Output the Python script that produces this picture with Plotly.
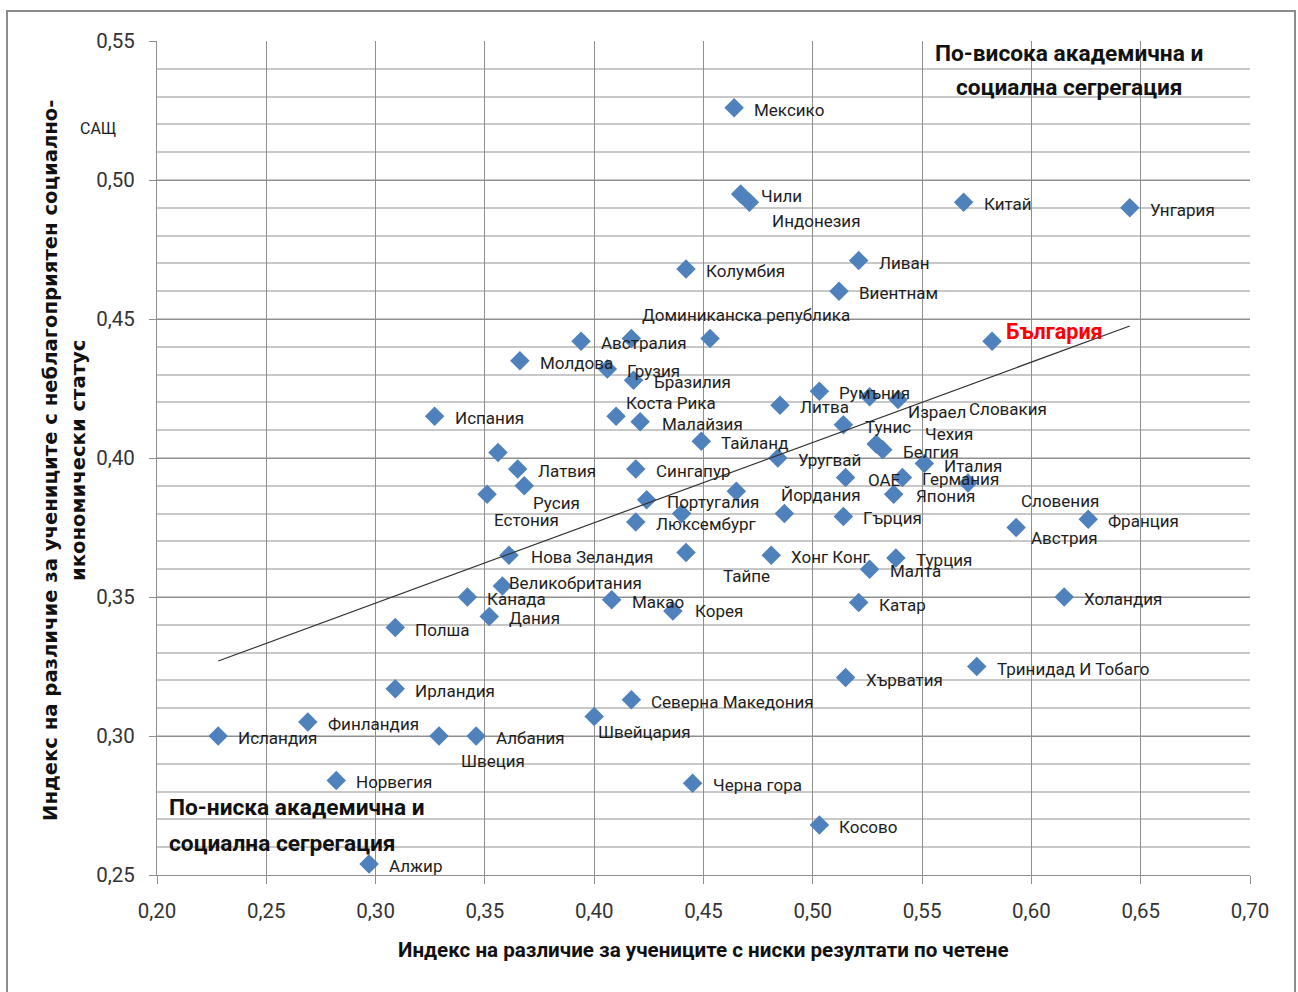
import plotly.graph_objects as go

# Index of difference for students with low reading results (x)
# and for students with disadvantaged socio-economic status (y)
countries = [
    "Мексико", "Чили", "Индонезия", "Китай", "Унгария", "Колумбия", "Ливан",
    "Виентнам", "Доминиканска република", "Австралия", "Молдова", "Грузия",
    "Бразилия", "Коста Рика", "Малайзия", "Испания", "Тайланд", "Уругвай",
    "Литва", "Румъния", "Израел", "Словакия", "Тунис", "Чехия", "Белгия",
    "Италия", "Германия", "ОАЕ", "Словения", "Япония", "Гърция", "Йордания",
    "Португалия", "Люксембург", "Сингапур", "Латвия", "Русия", "Естония",
    "Нова Зеландия", "Великобритания", "Канада", "Дания", "Полша", "Макао",
    "Корея", "Тайпе", "Хонг Конг", "Турция", "Малта", "Катар", "Австрия",
    "Франция", "Холандия", "Тринидад И Тобаго", "Хърватия",
    "Северна Македония", "Швейцария", "Албания", "Швеция", "Ирландия",
    "Финландия", "Исландия", "Норвегия", "Алжир", "Черна гора", "Косово",
    "България",
]
reading_index = [
    0.464, 0.467, 0.471, 0.569, 0.645, 0.442, 0.521,
    0.512, 0.453, 0.394, 0.366, 0.406,
    0.418, 0.410, 0.421, 0.327, 0.449, 0.484,
    0.485, 0.503, 0.526, 0.539, 0.514, 0.529, 0.532,
    0.551, 0.541, 0.515, 0.571, 0.537, 0.514, 0.487,
    0.424, 0.419, 0.419, 0.365, 0.368, 0.351,
    0.361, 0.358, 0.342, 0.352, 0.309, 0.408,
    0.436, 0.442, 0.481, 0.538, 0.526, 0.521, 0.593,
    0.626, 0.615, 0.575, 0.515,
    0.417, 0.400, 0.346, 0.329, 0.309,
    0.269, 0.228, 0.282, 0.297, 0.445, 0.503,
    0.582,
]
ses_index = [
    0.526, 0.495, 0.492, 0.492, 0.490, 0.468, 0.471,
    0.460, 0.443, 0.442, 0.435, 0.432,
    0.428, 0.415, 0.413, 0.415, 0.406, 0.400,
    0.419, 0.424, 0.422, 0.421, 0.412, 0.405, 0.403,
    0.398, 0.393, 0.393, 0.391, 0.387, 0.379, 0.380,
    0.385, 0.377, 0.396, 0.396, 0.390, 0.387,
    0.365, 0.354, 0.350, 0.343, 0.339, 0.349,
    0.345, 0.366, 0.365, 0.364, 0.360, 0.348, 0.375,
    0.378, 0.350, 0.325, 0.321,
    0.313, 0.307, 0.300, 0.300, 0.317,
    0.305, 0.300, 0.284, 0.254, 0.283, 0.268,
    0.442,
]
# points shown without a data label
unlabelled_reading = [0.417, 0.356, 0.465, 0.440]
unlabelled_ses = [0.443, 0.402, 0.388, 0.380]

# linear trend line: end points (x, y)
trend_x = [0.228, 0.645]
trend_y = [0.327, 0.4475]

x_ticks = [0.20, 0.25, 0.30, 0.35, 0.40, 0.45, 0.50, 0.55, 0.60, 0.65, 0.70]
y_ticks = [0.25, 0.30, 0.35, 0.40, 0.45, 0.50, 0.55]

highlight = "България"

# label placement (pixels right / down of the marker); default is right of the point
default_shift = (19, 2)
label_shift = {
    "Индонезия": (22, 19), "Доминиканска република": (-69, -23),
    "Коста Рика": (9, -13), "Израел": (37, 15), "Словакия": (70, 9),
    "Чехия": (48, -10), "Словения": (52, 18), "Йордания": (-4, -19),
    "Русия": (8, 17), "Естония": (6, 26), "Великобритания": (6, -3),
    "Тайпе": (36, 23), "Австрия": (14, 10), "Швейцария": (3, 15),
    "Швеция": (21, 25), "България": (13, -10), "Малайзия": (21, 2),
    "Тунис": (21, 2), "ОАЕ": (21, 3), "Япония": (21, 2), "Нова Зеландия": (21, 2),
    "Корея": (21, 0),
}

W, H = 1298, 992
ML, MR, MT, MB = 157, 48, 41, 117
PW, PH = W - ML - MR, H - MT - MB


def px(xp):
    return (xp - ML) / PW


def py(yp):
    return (H - MB - yp) / PH


LABEL_FONT = "Roboto, 'Open Sans', sans-serif"
TEXT = "#1e1e1e"

fig = go.Figure()

fig.add_trace(go.Scatter(
    x=list(reading_index) + unlabelled_reading,
    y=list(ses_index) + unlabelled_ses,
    mode="markers",
    marker=dict(symbol="diamond", size=15, color="#4F81BD", line=dict(width=0)),
    hoverinfo="skip", showlegend=False,
))

fig.add_trace(go.Scatter(
    x=trend_x, y=trend_y, mode="lines",
    line=dict(color="#333333", width=1.2),
    hoverinfo="skip", showlegend=False,
))

annotations = []
for name, xv, yv in zip(countries, reading_index, ses_index):
    dx, dy = label_shift.get(name, default_shift)
    if name == highlight:
        font = dict(family=LABEL_FONT, size=21.5, color="#ff0000", weight="bold")
    else:
        font = dict(family=LABEL_FONT, size=17, color=TEXT)
    annotations.append(dict(
        x=xv, y=yv, xref="x", yref="y", text=name, showarrow=False,
        xanchor="left", yanchor="middle", xshift=dx, yshift=-dy,
        font=font, borderpad=0,
    ))

annotations.append(dict(
    x=px(98), y=py(128), xref="paper", yref="paper", text="САЩ",
    showarrow=False, xanchor="center", yanchor="middle",
    font=dict(family=LABEL_FONT, size=16, color=TEXT),
))

QUAD_FONT = dict(family=LABEL_FONT, size=22.7, color="#111111", weight="bold")
for text, xp, yp, anchor in [
    ("По-висока академична и", 1069, 53, "center"),
    ("социална сегрегация", 1069, 88, "center"),
    ("По-ниска академична и", 167, 807, "left"),
    ("социална сегрегация", 167, 843, "left"),
]:
    annotations.append(dict(
        x=px(xp), y=py(yp), xref="paper", yref="paper", text=text,
        showarrow=False, xanchor=anchor, yanchor="middle", font=QUAD_FONT,
    ))

TITLE_FONT_Y = dict(family="'DejaVu Sans', sans-serif", size=19.6, color="#111111", weight="bold")
for text, xp in [
    ("Индекс на различие за учениците с неблагоприятен социално-", 50),
    ("икономически статус", 78),
]:
    annotations.append(dict(
        x=px(xp), y=py(461), xref="paper", yref="paper", text=text,
        showarrow=False, textangle=-90, xanchor="center", yanchor="middle",
        font=TITLE_FONT_Y,
    ))

annotations.append(dict(
    x=px(703), y=py(950), xref="paper", yref="paper",
    text="Индекс на различие за учениците с ниски резултати по четене",
    showarrow=False, xanchor="center", yanchor="middle",
    font=dict(family=LABEL_FONT, size=20.6, color="#111111", weight="bold"),
))

fig.update_layout(
    width=W, height=H,
    margin=dict(l=ML, r=MR, t=MT, b=MB),
    paper_bgcolor="white", plot_bgcolor="white",
    separators=",.",
    annotations=annotations,
    shapes=[dict(
        type="rect", xref="paper", yref="paper",
        x0=px(7), x1=px(1295), y0=py(1010), y1=py(11),
        line=dict(color="#8c8c8c", width=2), fillcolor="rgba(0,0,0,0)",
        layer="below",
    )],
)

fig.update_xaxes(
    range=[0.20, 0.70], tickvals=x_ticks, tickformat=".2f",
    showgrid=True, gridcolor="#8f8f8f", gridwidth=1,
    showline=True, linecolor="#8f8f8f", linewidth=1,
    ticks="outside", ticklen=8, tickcolor="#8f8f8f",
    tickfont=dict(family=LABEL_FONT, size=20.5, color="#333333"),
    ticklabelstandoff=9, zeroline=False, automargin=False,
)
fig.update_yaxes(
    range=[0.25, 0.55], tickvals=y_ticks, tickformat=".2f",
    showgrid=True, gridcolor="#8f8f8f", gridwidth=1,
    minor=dict(dtick=0.01, showgrid=True, gridcolor="#c8c8c8", gridwidth=1.5),
    showline=True, linecolor="#8f8f8f", linewidth=1,
    ticks="outside", ticklen=7, tickcolor="#8f8f8f",
    tickfont=dict(family=LABEL_FONT, size=20.5, color="#333333"),
    ticklabelstandoff=10, zeroline=False, automargin=False,
)

fig.write_html("out.html")
